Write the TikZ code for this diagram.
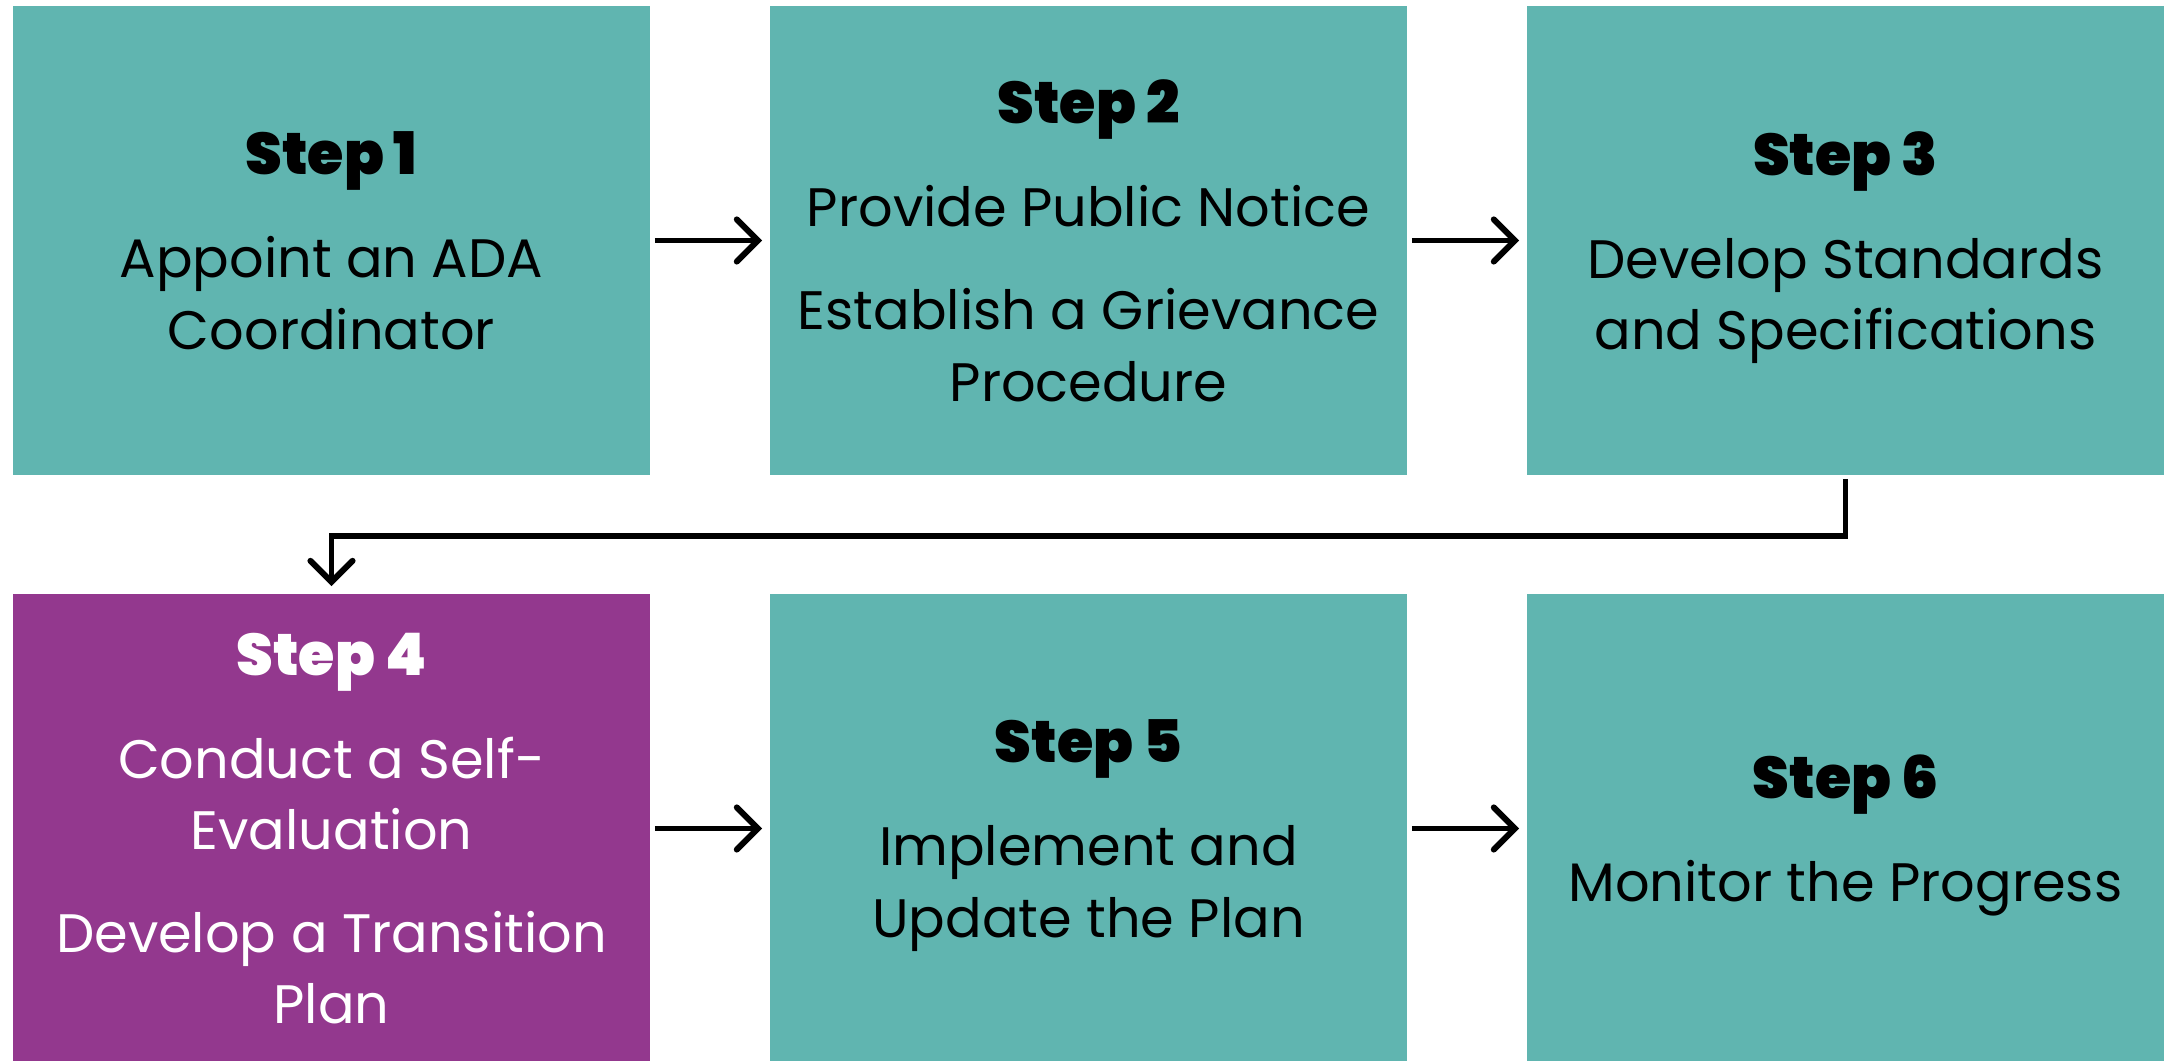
\documentclass[tikz,border=0pt]{standalone}
\usepackage{fontspec}
\setmainfont{Poppins}
\newfontfamily\titlefont{Poppins Black}
\usetikzlibrary{arrows.meta}
\definecolor{tealbox}{RGB}{96,181,176}
\definecolor{purplebox}{RGB}{147,56,142}
\tikzset{
  stepbox/.style={rectangle, inner sep=0pt, minimum width=6.37cm, minimum height=4.69cm,
    fill=tealbox, draw=none, align=center, text=black,
    font={\fontsize{15.4pt}{20.2pt}\selectfont}},
  hlbox/.style={stepbox, fill=purplebox, text=white},
  arr/.style={line width=1.7pt, -{Straight Barb[length=6pt,width=12pt,line cap=round]},
    shorten <=0.04cm, shorten >=0.07cm}
}
\newcommand{\ttl}[1]{{\titlefont\fontsize{16.7pt}{20.2pt}\selectfont #1}}
\newcommand{\gapline}{\\[0.32cm]}
\newcommand{\lastline}[1]{\smash{#1}}
\begin{document}
\begin{tikzpicture}[x=0.01cm, y=-0.01cm]
\useasboundingbox (0,0) rectangle (2165,1061);
\node[stepbox] (s1) at (331.5,240.5) {\ttl{Step 1}\gapline Appoint an ADA\\\lastline{Coordinator}};
\node[stepbox] (s2) at (1088.5,240.5) {\ttl{Step 2}\gapline Provide Public Notice\gapline Establish a Grievance\\\lastline{Procedure}};
\node[stepbox] (s3) at (1845.5,240.5) {\ttl{Step 3}\gapline Develop Standards\\\lastline{and Specifications}};
\node[hlbox] (s4) at (331.5,828.5) {\ttl{Step 4}\gapline Conduct a Self-\\Evaluation\gapline Develop a Transition\\\lastline{Plan}};
\node[stepbox] (s5) at (1088.5,828.5) {\ttl{Step 5}\gapline Implement and\\\lastline{Update the Plan}};
\node[stepbox] (s6) at (1845.5,828.5) {\ttl{Step 6}\gapline \lastline{Monitor the Progress}};
\draw[arr] (s1) -- (s2);
\draw[arr] (s2) -- (s3);
\draw[arr] (s4) -- (s5);
\draw[arr] (s5) -- (s6);
\draw[arr, shorten <=0.03cm] (s3.south) -- ++(0,60) -| (s4.north);
\end{tikzpicture}
\end{document}
